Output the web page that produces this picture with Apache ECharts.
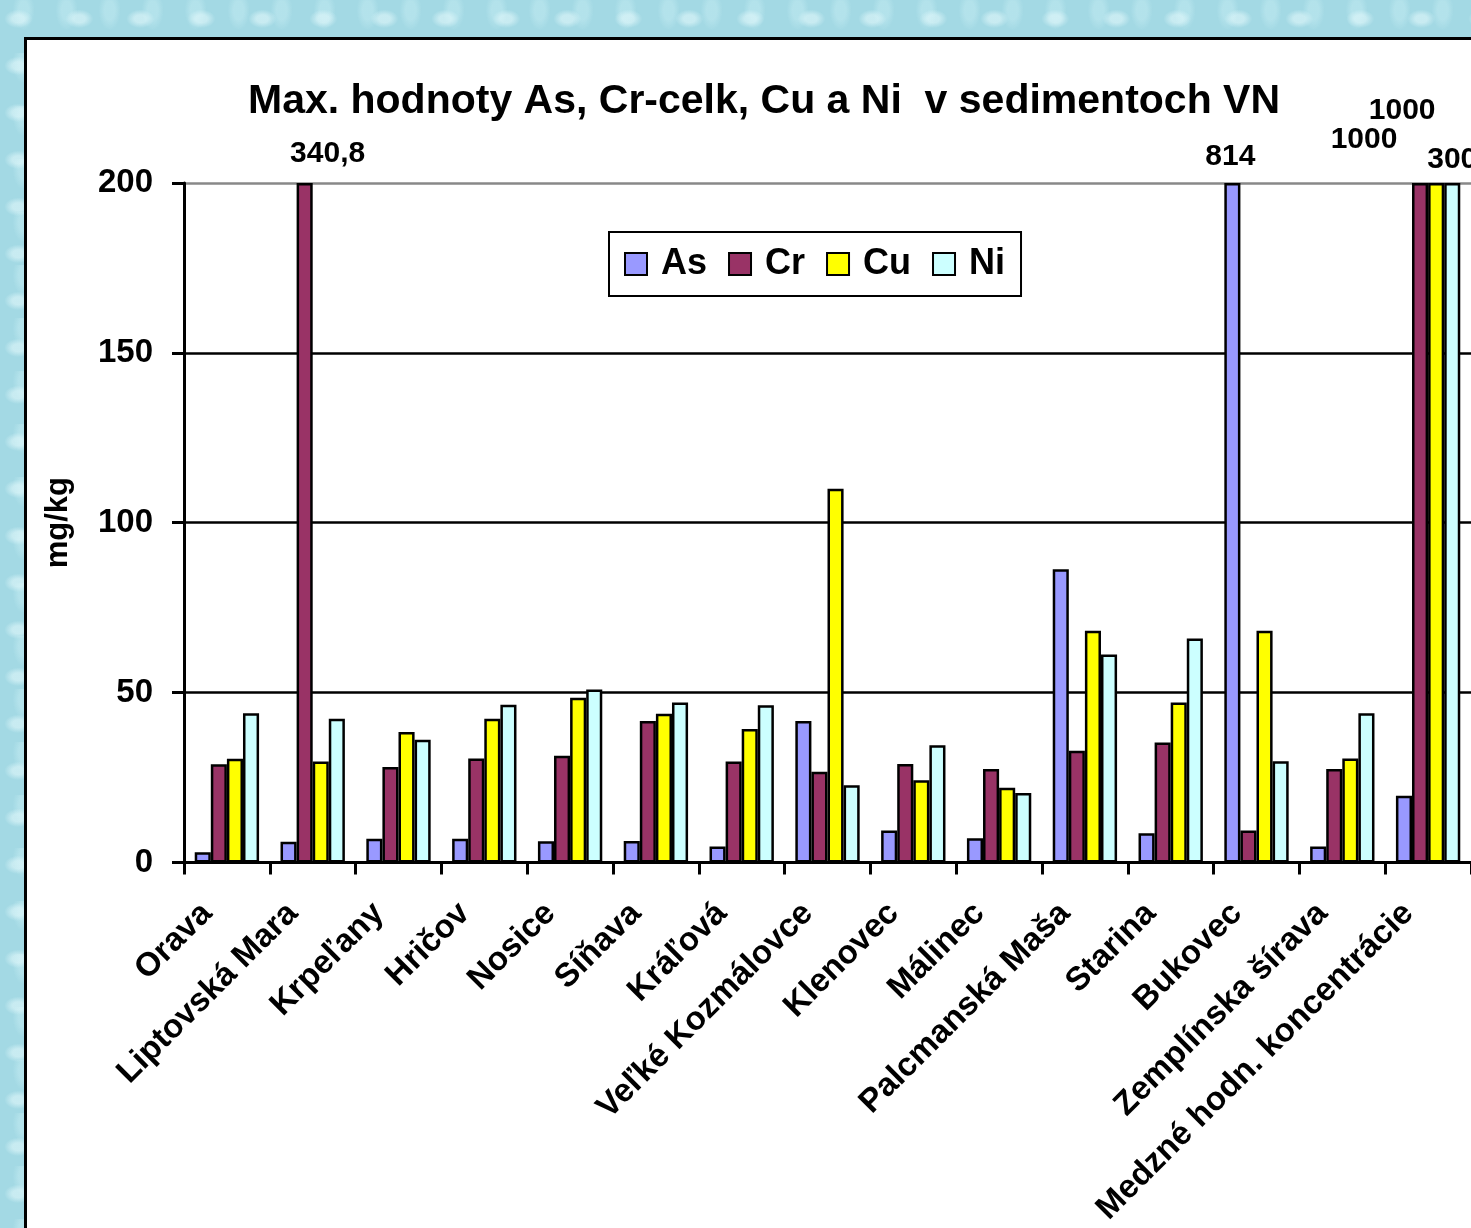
<!DOCTYPE html>
<html>
<head>
<meta charset="utf-8">
<script src="https://cdn.jsdelivr.net/npm/echarts@6/dist/echarts.min.js"></script>
<style>
  html, body { margin: 0; padding: 0; width: 1471px; height: 1228px; overflow: hidden; }
  body {
    background-color: #a3d9e4;
    background-image:
      radial-gradient(ellipse at 30% 40%, rgba(230,250,252,0.55) 0 6px, transparent 14px),
      radial-gradient(ellipse at 70% 70%, rgba(110,180,196,0.35) 0 8px, transparent 16px),
      radial-gradient(ellipse at 55% 20%, rgba(200,238,244,0.45) 0 5px, transparent 11px);
    background-size: 61px 47px, 83px 71px, 43px 53px;
  }
  #paper { position: absolute; left: 24px; top: 37px; width: 1500px; height: 1300px;
           background: #fff; border: 3px solid #000; box-sizing: border-box; }
  #chart { position: absolute; left: 0; top: 0; width: 1471px; height: 1228px; }
</style>
</head>
<body>
<div id="paper"></div>
<div id="chart"></div>
<script>
// kategórie a hodnoty (mg/kg)
var categories = ['Orava', 'Liptovská Mara', 'Krpeľany', 'Hričov', 'Nosice', 'Síňava', 'Kráľová',
  'Veľké Kozmálovce', 'Klenovec', 'Málinec', 'Palcmanská Maša', 'Starina', 'Bukovec',
  'Zemplínska šírava', 'Medzné hodn. koncentrácie']
var asValues = [3, 6.1, 7, 7, 6.2, 6.3, 4.7, 41.6, 9.4, 7.1, 86.3, 8.6, 814, 4.7, 19.6]
var crValues = [28.9, 340.8, 28.1, 30.6, 31.4, 41.6, 29.7, 26.7, 29, 27.5, 32.9, 35.3, 9.4, 27.5, 1000]
var cuValues = [30.5, 29.7, 38.4, 42.3, 48.5, 43.8, 39.3, 110, 24.2, 22, 68.2, 47.1, 68.2, 30.6, 1000]
var niValues = [43.9, 42.3, 36.1, 46.4, 50.9, 47.1, 46.3, 22.7, 34.5, 20.4, 61.2, 65.9, 29.8, 43.9, 300]
var yTicks = [0, 50, 100, 150, 200]

var yMax = 200
var font = 'Liberation Sans, Arial, sans-serif'
// posun popisov nad orezanými stĺpcami (ako v Exceli)
var labelOffsets = {
  'Cr-1': [23, -10],
  'As-12': [-2, -7],
  'Cr-14': [-56, -24],
  'Cu-14': [-34, -53],
  'Ni-14': [0, -4]
}

function buildData(name, values) {
  return values.map(function (v, i) {
    var item = { value: Math.min(v, yMax) }
    if (v > yMax) {
      item.label = {
        show: true,
        position: 'top',
        distance: 4,
        formatter: String(v).replace('.', ','),
        offset: labelOffsets[name + '-' + i] || [0, 0],
        color: '#000',
        fontWeight: 'bold',
        fontSize: 30,
        fontFamily: font
      }
    }
    return item
  })
}

var chart = echarts.init(document.getElementById('chart'))
var seriesDef = [
  { name: 'As', values: asValues, color: '#9999ff' },
  { name: 'Cr', values: crValues, color: '#993366' },
  { name: 'Cu', values: cuValues, color: '#ffff00' },
  { name: 'Ni', values: niValues, color: '#ccffff' }
]

chart.setOption({
  backgroundColor: 'transparent',
  animation: false,
  title: {
    text: 'Max. hodnoty As, Cr-celk, Cu a Ni  v sedimentoch VN',
    left: 759,
    textAlign: 'center',
    top: 76,
    textStyle: { fontSize: 41, fontWeight: 'bold', color: '#000', fontFamily: font }
  },
  legend: {
    left: 609,
    top: 232,
    padding: [14, 16, 14, 15],
    itemWidth: 22,
    itemHeight: 22,
    itemGap: 21,
    borderColor: '#000',
    borderWidth: 2,
    backgroundColor: '#fff',
    icon: 'rect',
    textStyle: { fontSize: 36, fontWeight: 'bold', color: '#000', fontFamily: font, padding: [0, 0, 0, 9] },
    data: seriesDef.map(function (s) { return s.name })
  },
  grid: { left: 184, top: 183, right: 0, bottom: 365, containLabel: false },
  xAxis: {
    type: 'category',
    data: categories,
    axisLine: { lineStyle: { color: '#000', width: 3 } },
    axisTick: { show: true, interval: 0, length: 12, lineStyle: { color: '#000', width: 3 } },
    axisLabel: {
      interval: 0,
      rotate: 45,
      margin: 26,
      padding: [0, 28, 0, 0],
      fontSize: 33,
      fontWeight: 'bold',
      color: '#000',
      fontFamily: font
    }
  },
  yAxis: {
    type: 'value',
    min: yTicks[0],
    max: yTicks[yTicks.length - 1],
    interval: 50,
    name: 'mg/kg',
    nameLocation: 'middle',
    nameGap: 110,
    nameRotate: 90,
    nameTextStyle: { fontSize: 31, fontWeight: 'bold', color: '#000', fontFamily: font },
    axisLine: { show: true, lineStyle: { color: '#000', width: 3 } },
    axisTick: { show: true, length: 12, lineStyle: { color: '#000', width: 3 } },
    axisLabel: { margin: 31, fontSize: 33, fontWeight: 'bold', color: '#000', fontFamily: font },
    splitLine: { show: true, lineStyle: { color: ['#000', '#000', '#000', '#000', '#888'], width: 2.5 } }
  },
  series: seriesDef.map(function (s) {
    return {
      name: s.name,
      type: 'bar',
      barGap: '0%',
      barCategoryGap: '25%',
      data: buildData(s.name, s.values),
      itemStyle: { color: s.color, borderColor: '#000', borderWidth: 2.5 }
    }
  })
})
</script>
</body>
</html>
